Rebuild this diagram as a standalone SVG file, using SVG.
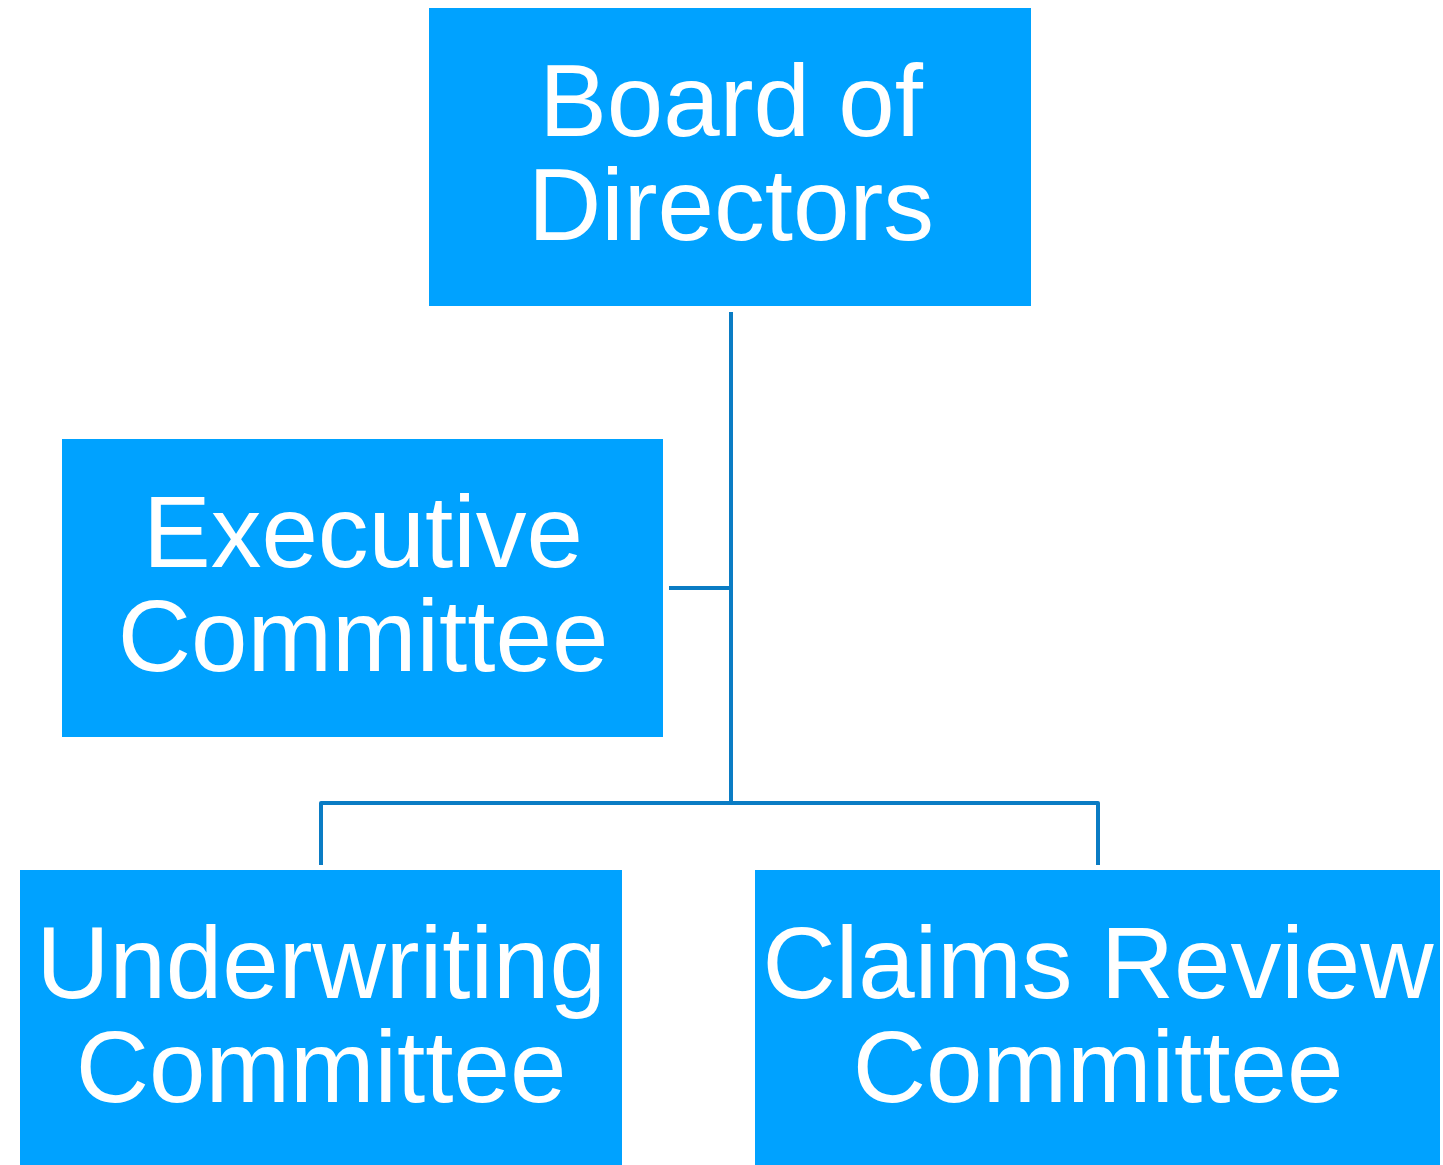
<svg xmlns="http://www.w3.org/2000/svg" width="1443" height="1165" viewBox="0 0 1443 1165">
  <style>
    .box { fill: #00a2ff; }
    .label { font-family: "Liberation Sans", Arial, sans-serif; font-size: 101.5px; fill: #ffffff; text-anchor: middle; }
    .link { fill: none; stroke: #0a7cc4; stroke-width: 4; stroke-linejoin: round; }
  </style>
  <rect width="1443" height="1165" fill="#ffffff"/>

  <!-- connectors -->
  <g id="connectors">
    <line class="link" x1="731" y1="312" x2="731" y2="804"/>
    <line class="link" x1="669" y1="588" x2="731" y2="588"/>
    <polyline class="link" points="321,865 321,803 1098,803 1098,865"/>
  </g>

  <g id="board">
    <rect class="box" x="429" y="8" width="602" height="298"/>
    <text class="label" x="731" y="136">Board of</text>
    <text class="label" x="731" y="240">Directors</text>
  </g>

  <g id="executive">
    <rect class="box" x="62" y="439" width="601" height="298"/>
    <text class="label" x="363" y="567">Executive</text>
    <text class="label" x="363" y="671">Committee</text>
  </g>

  <g id="underwriting">
    <rect class="box" x="20" y="870" width="602" height="295"/>
    <text class="label" x="321" y="998">Underwriting</text>
    <text class="label" x="321" y="1102">Committee</text>
  </g>

  <g id="claims">
    <rect class="box" x="755" y="870" width="685" height="295"/>
    <text class="label" x="1098" y="998">Claims Review</text>
    <text class="label" x="1098" y="1102">Committee</text>
  </g>
</svg>
